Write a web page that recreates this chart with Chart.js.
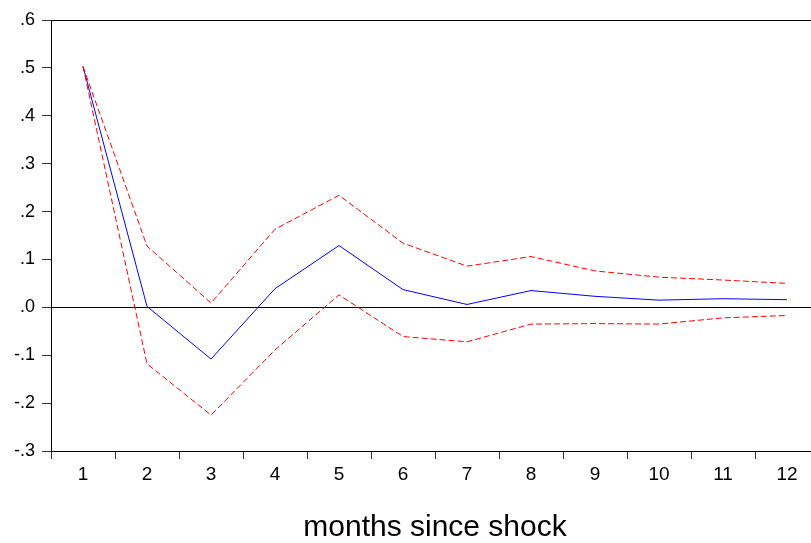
<!DOCTYPE html>
<html>
<head>
<meta charset="utf-8">
<script src="https://cdn.jsdelivr.net/npm/chart.js@4/dist/chart.umd.min.js"></script>
<style>
  html, body { margin: 0; padding: 0; background: #fff; overflow: hidden; }
  #wrap { width: 830px; height: 543px; }
</style>
</head>
<body>
<div id="wrap"><canvas id="irf" width="830" height="543"></canvas></div>
<script>
// months after the shock
var months = ['1', '2', '3', '4', '5', '6', '7', '8', '9', '10', '11', '12'];
// impulse response (blue) and its +/- 2 s.e. bands (red dashed)
var response  = [0.503, 0.002, -0.108, 0.039, 0.129, 0.037, 0.006, 0.035, 0.023, 0.015, 0.018, 0.016];
var upperBand = [0.503, 0.128, 0.009, 0.163, 0.234, 0.134, 0.086, 0.106, 0.076, 0.063, 0.057, 0.050];
var lowerBand = [0.503, -0.118, -0.225, -0.089, 0.026, -0.061, -0.072, -0.035, -0.034, -0.035, -0.022, -0.017];
var yTicks = [-0.3, -0.2, -0.1, 0.0, 0.1, 0.2, 0.3, 0.4, 0.5, 0.6];

var font = "'Liberation Sans', Arial, sans-serif";

// box around the plot
var frame = {
    id: 'frame',
    afterDraw: function (chart) {
        var a = chart.chartArea, c = chart.ctx;
        c.save();
        c.strokeStyle = '#000';
        c.lineWidth = 1;
        c.strokeRect(Math.round(a.left) + 0.5, Math.round(a.top) + 0.5,
                     Math.round(a.right - a.left), Math.round(a.bottom - a.top));
        c.restore();
    }
};

function bandSet(data) {
    return {
        data: data,
        borderColor: '#ff0000',
        borderWidth: 1,
        borderDash: [6, 3],
        pointRadius: 0,
        fill: false,
        tension: 0
    };
}

new Chart(document.getElementById('irf').getContext('2d'), {
    type: 'line',
    data: {
        labels: months,
        datasets: [
            bandSet(upperBand),
            bandSet(lowerBand),
            {
                data: response,
                borderColor: '#0000ff',
                borderWidth: 1,
                pointRadius: 0,
                fill: false,
                tension: 0
            }
        ]
    },
    options: {
        responsive: false,
        animation: false,
        devicePixelRatio: 1,
        layout: { padding: { left: 0, right: 11, top: 20, bottom: 0 } },
        plugins: {
            legend: { display: false },
            tooltip: { enabled: false }
        },
        scales: {
            x: {
                offset: true,
                grid: {
                    offset: true,
                    drawOnChartArea: false,
                    tickLength: 8,
                    tickColor: '#333'
                },
                border: { display: true, color: '#000' },
                ticks: {
                    color: '#000',
                    padding: 4,
                    maxRotation: 0,
                    font: { family: font, size: 19 }
                },
                title: {
                    display: true,
                    text: 'months since shock',
                    color: '#000',
                    padding: { top: 0, bottom: 0 },
                    font: { family: font, size: 30, lineHeight: 1.05 }
                },
                afterFit: function (s) { s.height = 92; }
            },
            y: {
                min: -0.3,
                max: 0.6,
                afterBuildTicks: function (s) {
                    s.ticks = yTicks.map(function (v) { return { value: v }; });
                },
                grid: {
                    tickLength: 9,
                    tickColor: '#333',
                    color: function (ctx) {
                        return ctx.tick && Math.abs(ctx.tick.value) < 1e-9 ? '#000' : 'rgba(0,0,0,0)';
                    }
                },
                border: { display: true, color: '#000' },
                ticks: {
                    color: '#000',
                    padding: 7,
                    font: { family: font, size: 18 },
                    callback: function (v) {
                        if (Math.abs(v) < 1e-9) return '.0';
                        return v.toFixed(1).replace('0.', '.');
                    }
                },
                afterFit: function (s) { s.width = 51; }
            }
        }
    },
    plugins: [frame]
});
</script>
</body>
</html>
